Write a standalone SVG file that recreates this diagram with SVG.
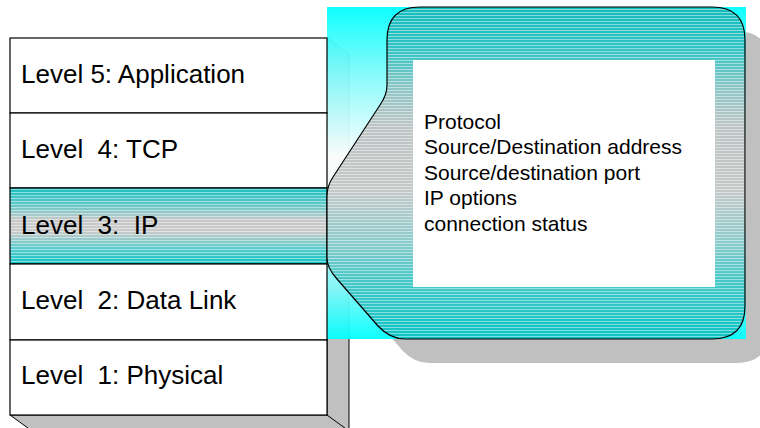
<svg xmlns="http://www.w3.org/2000/svg" width="760" height="428" viewBox="0 0 760 428">
  <style>
    .lbl { font-family: "Liberation Sans", Arial, Helvetica, sans-serif; font-size: 26px; fill: #000; white-space: pre; }
    .info { font-family: "Liberation Sans", Arial, Helvetica, sans-serif; font-size: 21px; fill: #000; }
    .row { fill: #fff; stroke: #000; stroke-width: 1.2; }
    .face { fill: #c0c0c0; stroke: #000; stroke-width: 1; }
  </style>
  <defs>
    <linearGradient id="bgGrad" x1="0" y1="0" x2="0" y2="1">
      <stop offset="0" stop-color="#00ffff"/>
      <stop offset="0.2" stop-color="#7ffafa"/>
      <stop offset="0.45" stop-color="#ffffff"/>
      <stop offset="0.6" stop-color="#f4ffff"/>
      <stop offset="0.85" stop-color="#7ff8f8"/>
      <stop offset="1" stop-color="#00ffff"/>
    </linearGradient>
    <linearGradient id="calloutGrad" gradientUnits="userSpaceOnUse" x1="0" y1="7" x2="0" y2="339">
      <stop offset="0" stop-color="#14bcbc"/>
      <stop offset="0.12" stop-color="#30c4c4"/>
      <stop offset="0.25" stop-color="#90c6c6"/>
      <stop offset="0.36" stop-color="#bec4c4"/>
      <stop offset="0.55" stop-color="#c6c8c8"/>
      <stop offset="0.7" stop-color="#90cccc"/>
      <stop offset="0.82" stop-color="#48c8c8"/>
      <stop offset="1" stop-color="#0cc4c4"/>
    </linearGradient>
    <linearGradient id="ipGrad" x1="0" y1="0" x2="0" y2="1">
      <stop offset="0" stop-color="#18c0c0"/>
      <stop offset="0.22" stop-color="#60c8c8"/>
      <stop offset="0.42" stop-color="#c8c8c8"/>
      <stop offset="0.58" stop-color="#c8caca"/>
      <stop offset="0.8" stop-color="#58cccc"/>
      <stop offset="1" stop-color="#10c4c4"/>
    </linearGradient>
    <pattern id="stripes" patternUnits="userSpaceOnUse" x="0" y="0" width="8" height="3">
      <rect x="0" y="0" width="8" height="1" fill="#ffffff" fill-opacity="0.45"/>
    </pattern>
    <path id="calloutShape" d="M 387,40 Q 387,7 420,7 H 712 Q 745,7 745,40 V 306 Q 745,339 712,339 H 405 Q 390,339 378,326 L 337,279 Q 327,268 327,258 V 196 Q 327,186 333,177 L 380,105 Q 387,95 387,85 Z"/>
  </defs>

  <!-- 3D stack faces -->
  <g id="stack-depth">
    <polygon class="face" points="327,38 349,54 349,440 327,415"/>
    <polygon class="face" points="10,415 327,415 349,431 32,431"/>
  </g>

  <!-- shadow of callout -->
  <use href="#calloutShape" transform="translate(24,24)" fill="#c0c0c0"/>

  <!-- cyan background panel -->
  <rect id="panel" x="327" y="7" width="419" height="332" fill="url(#bgGrad)" fill-opacity="0.94"/>

  <!-- layer rows -->
  <g id="node-level5">
    <rect class="row" x="10" y="38" width="317" height="75"/>
    <text class="lbl" x="21" y="83">Level 5: Application</text>
  </g>
  <g id="node-level4">
    <rect class="row" x="10" y="113" width="317" height="75"/>
    <text class="lbl" x="21" y="158">Level  4: TCP</text>
  </g>
  <g id="node-level3">
    <rect x="10" y="188" width="317" height="76" fill="url(#ipGrad)"/>
    <rect x="10" y="188" width="317" height="76" fill="url(#stripes)"/>
    <rect x="10" y="188" width="317" height="76" fill="none" stroke="#000" stroke-width="1.2"/>
    <text class="lbl" x="21" y="234">Level  3:  IP</text>
  </g>
  <g id="node-level2">
    <rect class="row" x="10" y="264" width="317" height="76"/>
    <text class="lbl" x="21" y="309">Level  2: Data Link</text>
  </g>
  <g id="node-level1">
    <rect class="row" x="10" y="340" width="317" height="75"/>
    <text class="lbl" x="21" y="384">Level  1: Physical</text>
  </g>

  <!-- callout -->
  <g id="node-callout">
    <use href="#calloutShape" fill="url(#calloutGrad)"/>
    <use href="#calloutShape" fill="url(#stripes)"/>
    <use href="#calloutShape" fill="none" stroke="#000" stroke-width="1.2"/>
    <rect x="413" y="60" width="302" height="227" fill="#ffffff"/>
    <text class="info" x="424" y="128.5">Protocol</text>
    <text class="info" x="424" y="154">Source/Destination address</text>
    <text class="info" x="424" y="179.5">Source/destination port</text>
    <text class="info" x="424" y="205">IP options</text>
    <text class="info" x="424" y="230.5">connection status</text>
  </g>

  <g id="connectors"/>
</svg>
